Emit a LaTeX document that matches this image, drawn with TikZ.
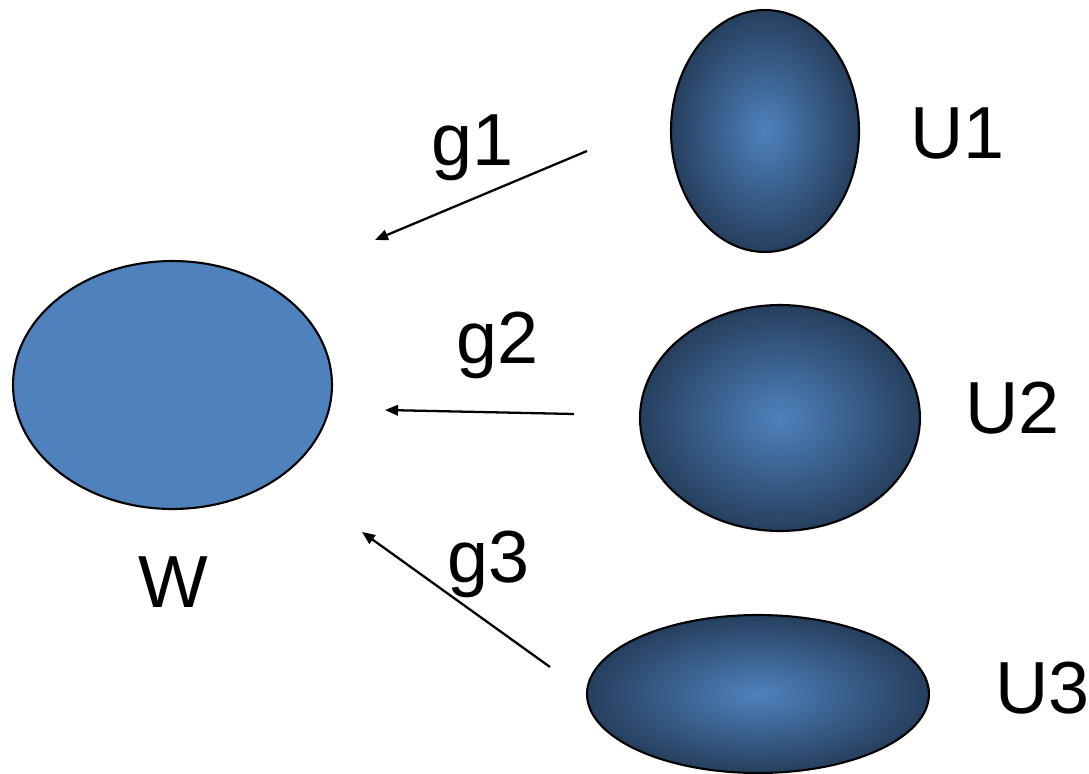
\documentclass[tikz,border=0pt]{standalone}
\usepackage{fontspec}
\setmainfont{Liberation Sans}
\usetikzlibrary{shapes.geometric,arrows.meta}
\definecolor{officeblue}{HTML}{4F81BD}
\definecolor{deepblue}{HTML}{263F5E}
\tikzset{
  blob/.style={ellipse, draw=black, line width=1.2pt, inner sep=0pt},
  flatblob/.style={blob, fill=officeblue},
  glowblob/.style={blob, inner color=officeblue, outer color=deepblue},
  lbl/.style={anchor=base west, inner sep=0pt, font=\fontsize{42}{48}\selectfont},
  maparrow/.style={line width=1.3pt, -{Triangle[length=0.26cm, width=0.21cm]}}
}
\begin{document}
\begin{tikzpicture}[x=0.02cm, y=-0.02cm]
  \useasboundingbox (0,0) rectangle (1089,774);

  % domain and the three source sets
  \node[flatblob, minimum width=6.38cm, minimum height=4.96cm] (W) at (172.5,385) {};
  \node[glowblob, minimum width=3.76cm, minimum height=4.84cm] (U1) at (765,131) {};
  \node[glowblob, minimum width=5.6cm, minimum height=4.52cm] (U2) at (780,418) {};
  \node[glowblob, minimum width=6.84cm, minimum height=3.16cm] (U3) at (758,694) {};

  % set names
  \node[lbl] (tW)  at (138,607) {W};
  \node[lbl] (tU1) at (910,158) {U1};
  \node[lbl] (tU2) at (965,433) {U2};
  \node[lbl] (tU3) at (995,713) {U3};

  % map names
  \node[lbl] (tg1) at (431,165) {g1};
  \node[lbl] (tg2) at (456,363) {g2};
  \node[lbl] (tg3) at (447,582) {g3};

  % arrow end points
  \coordinate (a1s) at (587,151);
  \coordinate (a1e) at (375,240);
  \coordinate (a2s) at (574,414);
  \coordinate (a2e) at (385,410);
  \coordinate (a3s) at (550,667);
  \coordinate (a3e) at (362,532);

  \draw[maparrow] (a1s) -- (a1e);
  \draw[maparrow] (a2s) -- (a2e);
  \draw[maparrow] (a3s) -- (a3e);
\end{tikzpicture}
\end{document}
